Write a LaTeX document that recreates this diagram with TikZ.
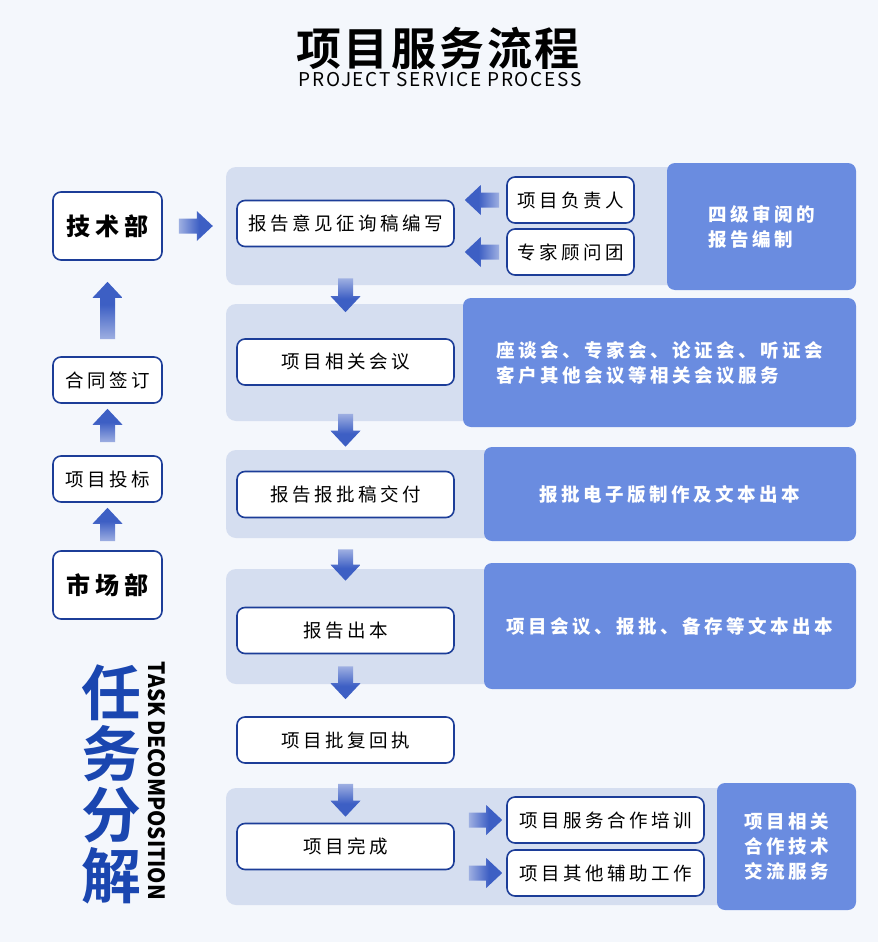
\documentclass[tikz,border=0pt]{standalone}
\usepackage{fontspec}
\setmainfont{Noto Sans CJK SC}
\newfontfamily\cjk[LetterSpace=19]{Noto Sans CJK SC}
\newfontfamily\latin[LetterSpace=9]{Noto Sans CJK SC}
\IfFontExistsTF{Noto Sans CJK SC Black}
  {\newfontfamily\heavy[LetterSpace=6]{Noto Sans CJK SC Black}}
  {\newfontfamily\heavy[LetterSpace=6]{Noto Sans CJK SC}}
\usetikzlibrary{calc}
\definecolor{bgc}{HTML}{F4F7FC}
\definecolor{panec}{HTML}{D5DEF0}
\definecolor{bluec}{HTML}{6A8CE0}
\definecolor{edgec}{HTML}{1C3D98}
\definecolor{arrowc}{HTML}{3D5FC4}
\definecolor{titlec}{HTML}{1A46B0}
\colorlet{tailc}{arrowc!8!white}
\pgfdeclarehorizontalshading{flowshade}{100bp}{color(0bp)=(tailc); color(55bp)=(arrowc); color(100bp)=(arrowc)}
\begin{document}
\begin{tikzpicture}[x=1pt, y=-1pt,
    box/.style = {draw=edgec, line width=1.6pt, fill=white, rounded corners=8pt, minimum height=46pt, inner sep=0pt, font=\cjk\fontsize{18.5}{22}\selectfont},
    dept/.style = {box, minimum width=109pt, minimum height=68pt, font=\cjk\bfseries\fontsize{24}{28}\selectfont},
    pane/.style = {fill=panec, rounded corners=10pt, inner sep=0pt},
    note/.style = {fill=bluec, rounded corners=8pt, inner sep=0pt, text=white, align=left, font=\cjk\bfseries\fontsize{18.5}{25}\selectfont},
    flow/.style = {shading=flowshade, to path={
      ($(\tikztostart)!7.5pt!90:(\tikztotarget)$)
      -- ($(\tikztotarget)!#1!(\tikztostart)!16pt!(\tikztostart)!7.5pt!-90:(\tikztostart)$)
      -- ($(\tikztotarget)!#1!(\tikztostart)!16pt!(\tikztostart)!15pt!-90:(\tikztostart)$)
      -- ($(\tikztotarget)!#1!(\tikztostart)$)
      -- ($(\tikztotarget)!#1!(\tikztostart)!16pt!(\tikztostart)!15pt!90:(\tikztostart)$)
      -- ($(\tikztotarget)!#1!(\tikztostart)!16pt!(\tikztostart)!7.5pt!90:(\tikztostart)$)
      -- ($(\tikztostart)!7.5pt!-90:(\tikztotarget)$) -- cycle}},
    goright/.style = {flow=#1, shading angle=0},
    goleft/.style = {flow=#1, shading angle=180},
    goup/.style = {flow=#1, shading angle=90},
    godown/.style = {flow=#1, shading angle=270}]
  \fill[bgc] (0,0) rectangle (878,942);
  \useasboundingbox (0,0) rectangle (878,942);
  %
  \node (title) at (438,48) {\heavy\bfseries\fontsize{45}{50}\selectfont 项目服务流程};
  \node (subtitle) at (440,80) {\latin\fontsize{19}{22}\selectfont PROJECT SERVICE PROCESS};
  %
  \node[dept] (jsb) at (107.5,226) {技术部};
  \node[box, minimum width=109pt] (htqd) at (107.5,380) {合同签订};
  \node[box, minimum width=109pt] (xmtb) at (107.5,479) {项目投标};
  \node[dept] (scb) at (107.5,585) {市场部};
  \node[text=titlec, align=center, font=\heavy\bfseries\fontsize{60}{61}\selectfont] (rwfj) at (111.5,784) {任\\务\\分\\解};
  \node[rotate=-90, inner sep=0pt] (tdc) at (156.5,781) {\resizebox{238pt}{17pt}{\bfseries TASK DECOMPOSITION}};
  %
  \node[pane, minimum width=474pt, minimum height=118pt] (p1) at (463,226) {};
  \node[pane, minimum width=254pt, minimum height=117pt] (p2) at (353,362.5) {};
  \node[pane, minimum width=274pt, minimum height=88pt] (p3) at (363,494) {};
  \node[pane, minimum width=274pt, minimum height=115pt] (p4) at (363,626.5) {};
  \node[pane, minimum width=504pt, minimum height=117pt] (p6) at (478,846.5) {};
  %
  \node[note, minimum width=189pt, minimum height=127pt] (q1) at (761.5,226.5) {四级审阅的\\报告编制};
  \node[note, minimum width=393pt, minimum height=129pt] (q2) at (659.5,362.5) {座谈会、专家会、论证会、听证会\\客户其他会议等相关会议服务};
  \node[note, minimum width=372pt, minimum height=94pt] (q3) at (670,494) {报批电子版制作及文本出本};
  \node[note, minimum width=372pt, minimum height=126pt] (q4) at (670,626) {项目会议、报批、备存等文本出本};
  \node[note, minimum width=139pt, minimum height=127pt] (q6) at (786.5,846.5) {项目相关\\合作技术\\交流服务};
  %
  \node[box, minimum width=217pt] (b1) at (345.5,223.5) {报告意见征询稿编写};
  \node[box, minimum width=217pt] (b2) at (345.5,362) {项目相关会议};
  \node[box, minimum width=217pt] (b3) at (345.5,494.5) {报告报批稿交付};
  \node[box, minimum width=217pt] (b4) at (345.5,630.5) {报告出本};
  \node[box, minimum width=217pt] (b5) at (345.5,740) {项目批复回执};
  \node[box, minimum width=217pt] (b6) at (345.5,846.5) {项目完成};
  \node[box, minimum width=127pt] (s1) at (570.5,200) {项目负责人};
  \node[box, minimum width=127pt] (s2) at (570.5,252) {专家顾问团};
  \node[box, minimum width=197pt] (t1) at (605.5,820) {项目服务合作培训};
  \node[box, minimum width=197pt] (t2) at (605.5,873) {项目其他辅助工作};
  %
  \coordinate (jsbout) at ([xshift=16pt]jsb.east);
  \coordinate (htqdout) at ([yshift=17pt]htqd.north);
  \coordinate (xmtbout) at ([yshift=13pt]xmtb.north);
  \coordinate (scbout) at ([yshift=9pt]scb.north);
  \coordinate (s1out) at ([xshift=-7pt]s1.west);
  \coordinate (s2out) at ([xshift=-7pt]s2.west);
  \coordinate (b1out) at ([yshift=-31pt]b1.south);
  \coordinate (b2out) at ([yshift=-28pt]b2.south);
  \coordinate (b3out) at ([yshift=-31pt]b3.south);
  \coordinate (b4out) at ([yshift=-12pt]b4.south);
  \coordinate (b5out) at ([yshift=-20pt]b5.south);
  \path (b6.east |- t1) ++(14,0) coordinate (t1in);
  \path (b6.east |- t2) ++(14,0) coordinate (t2in);
  %
  \shade[goright=13pt] (jsbout) to (p1.west);
  \shade[goup=21pt] (htqdout) to (jsb.south);
  \shade[goup=5pt] (xmtbout) to (htqd.south);
  \shade[goup=5pt] (scbout) to (xmtb.south);
  \shade[goleft=10pt] (s1out) to (s1 -| b1.east);
  \shade[goleft=10pt] (s2out) to (s2 -| b1.east);
  \shade[godown=26pt] (b1out) to (b2.north);
  \shade[godown=24pt] (b2out) to (b3.north);
  \shade[godown=26pt] (b3out) to (b4.north);
  \shade[godown=17pt] (b4out) to (b5.north);
  \shade[godown=6pt] (b5out) to (b6.north);
  \shade[goright=4pt] (t1in) to (t1.west);
  \shade[goright=4pt] (t2in) to (t2.west);
\end{tikzpicture}
\end{document}
